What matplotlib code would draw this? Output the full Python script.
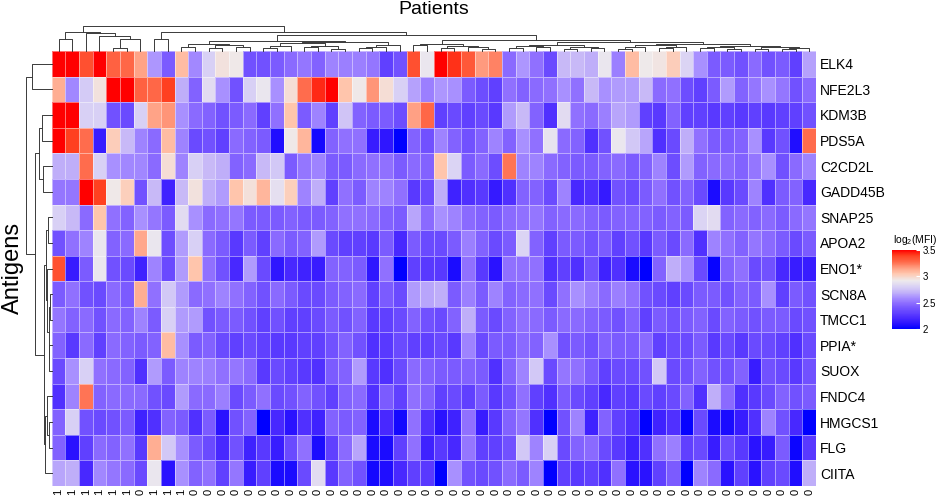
import numpy as np
import matplotlib
matplotlib.use('Agg')
import matplotlib.pyplot as plt
from matplotlib.colors import LinearSegmentedColormap, Normalize
from matplotlib.cm import ScalarMappable

plt.rcParams['font.family'] = ['Liberation Sans', 'DejaVu Sans']
plt.rcParams['mathtext.fontset'] = 'custom'
plt.rcParams['mathtext.rm'] = 'Liberation Sans'

antigens = ['ELK4', 'NFE2L3', 'KDM3B', 'PDS5A', 'C2CD2L', 'GADD45B', 'SNAP25', 'APOA2',
            'ENO1*', 'SCN8A', 'TMCC1', 'PPIA*', 'SUOX', 'FNDC4', 'HMGCS1', 'FLG', 'CIITA']

patients = ['1', '1', '1', '1', '1', '1', '0', '1', '1', '1'] + ['0'] * 46

# log2(MFI) per antigen, patients in dendrogram order
elk4 = [3.5, 3.5, 3.35, 3.5, 3.3, 3.28, 3.15, 2.62, 2.42, 3.08, 2.58, 2.8, 2.95, 2.93, 2.38, 2.38, 2.42, 2.48, 2.52, 2.45, 2.56, 2.55, 2.55, 2.52, 2.3, 2.38, 3.35, 2.9,
        3.5, 3.42, 3.33, 3.17, 3.22, 2.48, 2.62, 2.5, 2.35, 2.72, 2.72, 2.68, 2.9, 2.55, 3.08, 2.92, 2.94, 3.03, 2.82, 2.6, 2.42, 2.42, 2.38, 2.48, 2.38, 2.42, 2.3, 2.65]
nfe2l3 = [3.12, 2.57, 2.78, 2.95, 3.5, 3.5, 3.3, 3.28, 3.4, 2.68, 2.45, 2.85, 2.6, 2.38, 2.8, 2.9, 2.6, 2.97, 3.27, 3.43, 3.5, 3.06, 2.93, 3.18, 2.97, 2.8, 2.65, 2.55,
          2.62, 2.6, 2.42, 2.36, 2.3, 2.5, 2.45, 2.48, 2.5, 2.6, 2.5, 2.72, 2.6, 2.63, 2.63, 2.72, 2.48, 2.5, 2.36, 2.3, 2.42, 2.63, 2.45, 2.52, 2.6, 2.52, 2.38, 2.48]
kdm3b = [3.5, 3.5, 2.8, 2.8, 2.38, 2.35, 2.8, 3.15, 3.18, 2.6, 2.48, 2.45, 2.38, 2.42, 2.48, 2.3, 2.5, 3.06, 2.42, 2.56, 2.3, 2.76, 2.45, 2.42, 2.42, 2.36, 3.16, 3.28,
         2.3, 2.35, 2.3, 2.35, 2.27, 2.63, 2.72, 2.45, 2.24, 2.85, 2.5, 2.48, 2.55, 2.66, 2.63, 2.3, 2.27, 2.45, 2.3, 2.3, 2.27, 2.3, 2.27, 2.3, 2.27, 2.3, 2.3, 2.38]
pds5a = [3.5, 3.4, 3.27, 2.15, 3.03, 2.72, 2.56, 2.48, 3.08, 2.56, 2.35, 2.38, 2.3, 2.48, 2.45, 2.42, 2.08, 2.93, 3.1, 2.05, 2.45, 2.5, 2.5, 2.15, 2.12, 2.0, 2.45, 2.38,
         2.56, 2.45, 2.38, 2.45, 2.56, 2.45, 2.6, 2.5, 2.88, 2.48, 2.45, 2.24, 2.38, 2.9, 2.77, 2.66, 2.24, 2.35, 2.68, 2.5, 2.42, 2.42, 2.45, 2.6, 2.27, 2.38, 2.08, 3.27]
c2cd2l = [2.68, 2.68, 3.27, 2.8, 2.6, 2.57, 2.57, 2.48, 2.97, 2.56, 2.8, 2.72, 2.68, 2.45, 2.48, 2.72, 2.77, 2.42, 2.52, 2.56, 2.42, 2.42, 2.48, 2.5, 2.5, 2.42, 2.48, 2.45,
          3.06, 2.82, 2.42, 2.48, 2.36, 3.25, 2.56, 2.56, 2.48, 2.45, 2.42, 2.42, 2.45, 2.48, 2.42, 2.45, 2.56, 2.36, 2.63, 2.45, 2.48, 2.48, 2.45, 2.52, 2.6, 2.38, 2.48, 2.56]
gadd45b = [2.52, 2.52, 3.5, 3.4, 2.93, 3.02, 2.38, 2.72, 2.17, 2.72, 2.95, 2.68, 2.63, 3.06, 2.96, 3.1, 2.87, 3.02, 2.56, 2.68, 2.3, 2.5, 2.42, 2.56, 2.56, 2.5, 2.27, 2.35,
           2.68, 2.17, 2.24, 2.27, 2.14, 2.24, 2.45, 2.45, 2.35, 2.56, 2.2, 2.24, 2.14, 2.38, 2.35, 2.42, 2.5, 2.38, 2.45, 2.35, 2.07, 2.27, 2.35, 2.56, 2.24, 2.42, 2.45, 2.2]
snap25 = [2.8, 2.72, 2.48, 3.06, 2.5, 2.45, 2.6, 2.52, 2.42, 2.85, 2.6, 2.48, 2.5, 2.52, 2.42, 2.42, 2.42, 2.45, 2.42, 2.42, 2.45, 2.5, 2.5, 2.48, 2.45, 2.42, 2.66, 2.48,
          2.6, 2.56, 2.48, 2.45, 2.42, 2.48, 2.5, 2.52, 2.45, 2.48, 2.48, 2.45, 2.42, 2.45, 2.45, 2.45, 2.42, 2.45, 2.42, 2.82, 2.85, 2.45, 2.48, 2.45, 2.48, 2.42, 2.48, 2.52]
apoa2 = [2.38, 2.5, 2.56, 2.9, 2.45, 2.48, 3.14, 2.9, 2.36, 2.63, 2.8, 2.48, 2.42, 2.27, 2.42, 2.3, 2.48, 2.42, 2.45, 2.63, 2.35, 2.3, 2.3, 2.27, 2.42, 2.2, 2.42, 2.35,
         2.35, 2.42, 2.55, 2.45, 2.35, 2.42, 2.82, 2.45, 2.3, 2.42, 2.42, 2.38, 2.42, 2.3, 2.38, 2.27, 2.42, 2.35, 2.48, 2.24, 2.56, 2.5, 2.45, 2.52, 2.48, 2.42, 2.35, 2.42]
eno1 = [3.35, 2.15, 2.42, 2.9, 2.38, 2.35, 2.17, 2.56, 2.35, 2.63, 3.06, 2.5, 2.38, 2.2, 2.63, 2.35, 2.12, 2.2, 2.17, 2.15, 2.45, 2.45, 2.42, 2.12, 2.5, 2.0, 2.3, 2.27,
        2.27, 2.07, 2.5, 2.27, 2.1, 2.5, 2.5, 2.5, 2.24, 2.3, 2.24, 2.38, 2.17, 2.24, 2.07, 2.0, 2.45, 2.68, 2.6, 2.35, 2.02, 2.45, 2.5, 2.35, 2.38, 2.2, 2.15, 2.15]
scn8a = [2.42, 2.5, 2.38, 2.35, 2.48, 2.42, 3.12, 2.5, 2.77, 2.63, 2.48, 2.5, 2.56, 2.5, 2.45, 2.38, 2.48, 2.42, 2.35, 2.35, 2.42, 2.45, 2.48, 2.3, 2.42, 2.35, 2.63, 2.66,
         2.68, 2.42, 2.55, 2.42, 2.56, 2.45, 2.48, 2.5, 2.35, 2.5, 2.6, 2.55, 2.48, 2.55, 2.5, 2.38, 2.35, 2.3, 2.35, 2.42, 2.42, 2.38, 2.45, 2.42, 2.6, 2.3, 2.42, 2.38]
tmcc1 = [2.52, 2.45, 2.48, 2.38, 2.48, 2.45, 2.56, 2.42, 2.8, 2.63, 2.63, 2.38, 2.42, 2.42, 2.38, 2.3, 2.38, 2.3, 2.3, 2.35, 2.42, 2.38, 2.45, 2.27, 2.3, 2.35, 2.45, 2.38,
         2.35, 2.45, 2.68, 2.42, 2.35, 2.45, 2.5, 2.48, 2.42, 2.48, 2.48, 2.45, 2.42, 2.38, 2.45, 2.3, 2.42, 2.38, 2.42, 2.45, 2.35, 2.45, 2.42, 2.38, 2.42, 2.42, 2.35, 2.38]
ppia = [2.45, 2.27, 2.48, 2.3, 2.48, 2.45, 2.42, 2.45, 3.08, 2.6, 2.42, 2.45, 2.35, 2.3, 2.35, 2.3, 2.27, 2.27, 2.3, 2.3, 2.38, 2.45, 2.38, 2.24, 2.27, 2.35, 2.3, 2.3,
        2.35, 2.27, 2.56, 2.35, 2.42, 2.42, 2.48, 2.45, 2.6, 2.38, 2.42, 2.38, 2.45, 2.42, 2.42, 2.48, 2.3, 2.35, 2.35, 2.42, 2.27, 2.35, 2.27, 2.35, 2.35, 2.3, 2.24, 2.35]
suox = [2.35, 2.6, 2.8, 2.5, 2.48, 2.45, 2.24, 2.63, 2.42, 2.56, 2.56, 2.55, 2.5, 2.52, 2.48, 2.27, 2.35, 2.3, 2.27, 2.24, 2.42, 2.45, 2.63, 2.27, 2.24, 2.35, 2.48, 2.45,
        2.42, 2.42, 2.45, 2.42, 2.24, 2.45, 2.56, 2.77, 2.35, 2.52, 2.5, 2.42, 2.3, 2.35, 2.35, 2.38, 2.77, 2.35, 2.38, 2.45, 2.38, 2.38, 2.45, 2.15, 2.38, 2.35, 2.27, 2.38]
fndc4 = [2.24, 2.56, 3.25, 2.45, 2.48, 2.48, 2.48, 2.38, 2.35, 2.63, 2.48, 2.48, 2.55, 2.35, 2.42, 2.5, 2.35, 2.38, 2.45, 2.38, 2.3, 2.45, 2.48, 2.24, 2.42, 2.3, 2.5, 2.45,
         2.3, 2.35, 2.3, 2.42, 2.27, 2.38, 2.5, 2.3, 2.24, 2.42, 2.35, 2.3, 2.2, 2.3, 2.27, 2.35, 2.3, 2.35, 2.45, 2.24, 2.68, 2.48, 2.24, 2.27, 2.35, 2.45, 2.38, 2.42]
hmgcs1 = [2.45, 2.8, 2.38, 2.35, 2.38, 2.42, 2.17, 2.24, 2.45, 2.42, 2.24, 2.42, 2.1, 2.38, 2.45, 2.0, 2.2, 2.1, 2.24, 2.17, 2.45, 2.42, 2.45, 2.07, 2.2, 2.05, 2.5, 2.24,
          2.1, 2.17, 2.5, 2.15, 2.27, 2.45, 2.52, 2.24, 2.0, 2.38, 2.56, 2.17, 2.45, 2.3, 2.24, 2.0, 2.17, 2.24, 2.02, 2.35, 2.07, 2.07, 2.15, 2.24, 2.56, 2.38, 2.2, 2.0]
flg = [2.45, 2.1, 2.3, 2.48, 2.45, 2.5, 2.27, 3.12, 2.77, 2.6, 2.42, 2.35, 2.2, 2.38, 2.17, 2.27, 2.15, 2.35, 2.5, 2.07, 2.3, 2.48, 2.66, 2.07, 2.07, 2.3, 2.5, 2.17,
       2.27, 2.2, 2.52, 2.3, 2.3, 2.38, 2.77, 2.56, 2.8, 2.35, 2.45, 2.48, 2.35, 2.27, 2.17, 2.24, 2.5, 2.55, 2.3, 2.35, 2.15, 2.35, 2.27, 2.1, 2.15, 2.42, 2.03, 2.27]
ciita = [2.66, 2.68, 2.2, 2.57, 2.52, 2.48, 2.35, 2.9, 2.1, 2.6, 2.45, 2.5, 2.3, 2.52, 2.15, 2.3, 2.07, 2.07, 2.35, 2.85, 2.27, 2.45, 2.38, 2.05, 2.08, 2.2, 2.3, 2.27,
         2.0, 2.6, 2.38, 2.35, 2.38, 2.48, 2.42, 2.56, 2.0, 2.3, 2.27, 2.3, 2.24, 2.5, 2.1, 2.1, 2.3, 2.42, 2.0, 2.56, 2.48, 2.1, 2.3, 2.1, 2.3, 2.35, 2.08, 2.68]

# dendrograms: (left, right, merge height), leaves are column / row indices
patient_tree = (
    ((0, 1, 11.7), (2, (3, ((4, 5, 2.7), 6, 11.5), 15), 18), 19.3),
    ((7, 8, 11.7),
     ((((9, 10, 4), ((11, 12, 2.5), (13, 14, 4), 5.5), 7),
       ((((15, 16, 2.5), 17, 4.5), ((18, 19, 3.5), (20, 21, 2), 5), 7.5),
        (((22, 23, 2.5), 24, 4), 25, 6), 8.5), 10),
      (((26, 27, 5.5), ((28, 29, 2.5), (30, (31, 32, 2), 3.5), 4.5), 7),
       ((((33, 34, 2.5), (35, 36, 3.5), 4.5), ((37, 38, 1.5), (39, 40, 2.5), 3.5), 6),
        ((((41, 42, 2), 43, 3.5), ((44, 45, 2.5), 46, 4), 5.5),
         (((47, 48, 2.5), (49, 50, 1.5), 3.5), ((51, 52, 2), ((53, 54, 1.5), 55, 3), 4), 5), 7),
        8.5), 11), 15.5), 18.7),
    25)

antigen_tree = (
    (0, 1, 19.7),
    (((2, 3, 10), (4, 5, 8.5), 12.7),
     (((6, 7, 4), (8, ((9, 10, 2), (11, 12, 2.5), 3), 5), 6),
      ((13, (14, 15, 3), 4.5), 16, 6.5), 7.5), 16.7),
    25.7)

mat = np.array([elk4, nfe2l3, kdm3b, pds5a, c2cd2l, gadd45b, snap25, apoa2, eno1,
                scn8a, tmcc1, ppia, suox, fndc4, hmgcs1, flg, ciita])
nrow, ncol = mat.shape

vmin, vmax = 2.0, 3.5
anchors = [(2.00, '#0000FF'), (2.10, '#2A12FF'), (2.20, '#4828FF'), (2.30, '#6040FF'),
           (2.40, '#7656FF'), (2.50, '#9070FF'), (2.60, '#A890FF'), (2.70, '#C4B4F8'),
           (2.80, '#D8D0F5'), (2.92, '#EEEAEC'), (3.05, '#FFC8B0'), (3.15, '#FFA488'),
           (3.28, '#FF6848'), (3.40, '#FF4020'), (3.50, '#FF0000')]
cmap = LinearSegmentedColormap.from_list(
    'bwr_lab', [((v - vmin) / (vmax - vmin), c) for v, c in anchors])

W, H = 945, 498
fig = plt.figure(figsize=(W / 100, H / 100), dpi=100)


def px_axes(x0, y0, x1, y1):
    return fig.add_axes([x0 / W, 1 - y1 / H, (x1 - x0) / W, (y1 - y0) / H])


def draw_tree(ax, node, orient):
    if isinstance(node, int):
        return node + 0.5, 0.0
    left, right, h = node
    p1, h1 = draw_tree(ax, left, orient)
    p2, h2 = draw_tree(ax, right, orient)
    pos = [p1, p1, p2, p2]
    hts = [h1, h, h, h2]
    if orient == 'top':
        ax.plot(pos, hts, color='#3a3a3a', lw=0.7, clip_on=False)
    else:
        ax.plot(hts, pos, color='#3a3a3a', lw=0.7, clip_on=False)
    return (p1 + p2) / 2, h


# heatmap
ax = px_axes(51.7, 51, 816, 486)
ax.pcolormesh(mat, cmap=cmap, vmin=vmin, vmax=vmax,
              edgecolors=(1, 1, 1, 0.45), linewidth=0.5)
ax.set_xlim(0, ncol)
ax.set_ylim(nrow, 0)
for s in ax.spines.values():
    s.set_visible(False)
ax.set_yticks(np.arange(nrow) + 0.5)
ax.set_yticklabels(antigens, fontsize=10)
ax.yaxis.tick_right()
ax.tick_params(axis='y', length=0, pad=3)
ax.set_xticks(np.arange(ncol) + 0.5)
ax.set_xticklabels(patients, rotation=90, fontsize=8)
ax.tick_params(axis='x', length=0, pad=2)

# column dendrogram
axt = px_axes(51.7, 20, 816, 51)
draw_tree(axt, patient_tree, 'top')
axt.set_xlim(0, ncol)
axt.set_ylim(0, 31)
axt.axis('off')

# row dendrogram
axl = px_axes(15, 51, 51.7, 486)
draw_tree(axl, antigen_tree, 'left')
axl.set_xlim(36.7, 0)
axl.set_ylim(nrow, 0)
axl.axis('off')

fig.text(434 / W, 1 - 10 / H, 'Patients', ha='center', va='center', fontsize=14)
fig.text(13 / W, 1 - 268 / H, 'Antigens', ha='center', va='center', rotation=90, fontsize=17)

# colour legend
cax = px_axes(892, 250, 920, 329)
cb = fig.colorbar(ScalarMappable(norm=Normalize(vmin, vmax), cmap=cmap), cax=cax,
                  ticks=[2, 2.5, 3, 3.5])
cb.outline.set_visible(False)
cb.ax.set_yticklabels(['2', '2.5', '3', '3.5'])
cax.tick_params(labelsize=7, length=3, color='white', direction='in', pad=2)
fig.text(893 / W, 1 - 240 / H, r'log$_\mathregular{2}$(MFI)', fontsize=7.5, va='center')

fig.savefig('out.png', dpi=100)
